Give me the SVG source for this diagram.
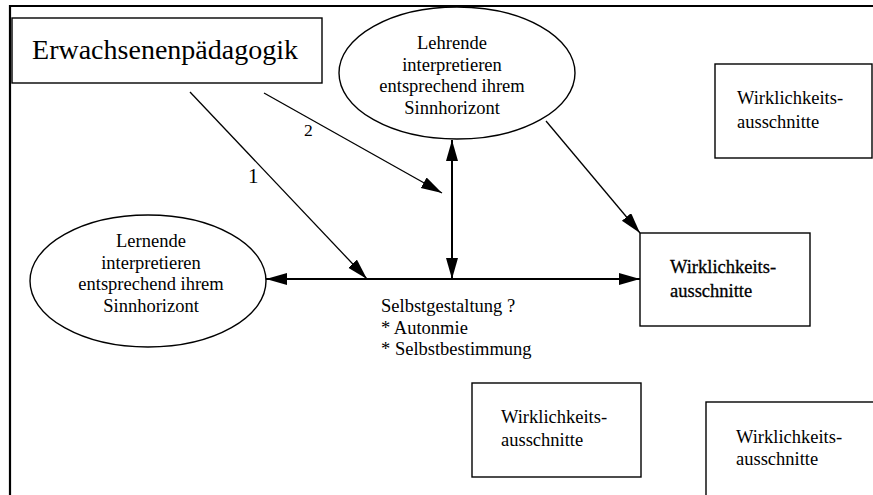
<svg xmlns="http://www.w3.org/2000/svg" width="873" height="495" viewBox="0 0 873 495">
<style>
text{font-family:"Liberation Serif","Times New Roman",serif;fill:#000}
.t{font-size:18.5px}
.shape{fill:#fff;stroke:#000;stroke-width:1.4}
.c{stroke:#000;fill:none}
</style>
<defs>
<marker id="ah" markerUnits="userSpaceOnUse" markerWidth="22" markerHeight="13" refX="21" refY="6" orient="auto-start-reverse">
<path d="M0,0 L21,6 L0,12 z" fill="#000"/>
</marker>
</defs>
<rect width="873" height="495" fill="#fff"/>
<path d="M10,495 L10,6 L873,6" fill="none" stroke="#000" stroke-width="2.2"/>

<g id="connectors">
<line class="c" stroke-width="1.3" x1="190" y1="92" x2="367" y2="279" marker-end="url(#ah)"/>
<line class="c" stroke-width="1.3" x1="264" y1="93" x2="442" y2="193" marker-end="url(#ah)"/>
<line class="c" stroke-width="2" x1="266" y1="279" x2="640" y2="279" marker-start="url(#ah)" marker-end="url(#ah)"/>
<line class="c" stroke-width="2" x1="452" y1="140" x2="452" y2="279" marker-start="url(#ah)" marker-end="url(#ah)"/>
<line class="c" stroke-width="1.3" x1="546" y1="121" x2="640" y2="233" marker-end="url(#ah)"/>
<text x="248" y="183" style="font-size:21px">1</text>
<text x="304" y="136" style="font-size:17.5px">2</text>
<text class="t" x="381" y="312">Selbstgestaltung ?</text>
<text class="t" x="381" y="334">* Autonmie</text>
<text class="t" x="381" y="355">* Selbstbestimmung</text>
</g>

<g id="erwachsenenpaedagogik">
<rect class="shape" x="12" y="18" width="310" height="65"/>
<text x="165" y="59" text-anchor="middle" style="font-size:28px">Erwachsenenpädagogik</text>
</g>

<g id="lehrende">
<ellipse class="shape" cx="457" cy="73" rx="118" ry="66"/>
<text class="t" text-anchor="middle" x="452" y="49">Lehrende</text>
<text class="t" text-anchor="middle" x="452" y="70.5">interpretieren</text>
<text class="t" text-anchor="middle" x="452" y="92">entsprechend ihrem</text>
<text class="t" text-anchor="middle" x="452" y="113.5">Sinnhorizont</text>
</g>

<g id="lernende">
<ellipse class="shape" cx="148" cy="281" rx="118" ry="66"/>
<text class="t" text-anchor="middle" x="151" y="247">Lernende</text>
<text class="t" text-anchor="middle" x="151" y="268.5">interpretieren</text>
<text class="t" text-anchor="middle" x="151" y="290">entsprechend ihrem</text>
<text class="t" text-anchor="middle" x="151" y="311.5">Sinnhorizont</text>
</g>

<g id="wirklichkeit-top">
<rect class="shape" x="715" y="64" width="157" height="94"/>
<text class="t" x="737" y="104">Wirklichkeits-</text>
<text class="t" x="737" y="127.5">ausschnitte</text>
</g>

<g id="wirklichkeit-mid">
<rect class="shape" x="640" y="233" width="170" height="93"/>
<text class="t" x="670" y="273" stroke="#000" stroke-width="0.3">Wirklichkeits-</text>
<text class="t" x="670" y="297" stroke="#000" stroke-width="0.3">ausschnitte</text>
</g>

<g id="wirklichkeit-bottom1">
<rect class="shape" x="472" y="383" width="169" height="94"/>
<text class="t" x="501" y="423">Wirklichkeits-</text>
<text class="t" x="501" y="446">ausschnitte</text>
</g>

<g id="wirklichkeit-bottom2">
<rect class="shape" x="706" y="402" width="200" height="150"/>
<text class="t" x="736" y="443">Wirklichkeits-</text>
<text class="t" x="736" y="465">ausschnitte</text>
</g>
</svg>
